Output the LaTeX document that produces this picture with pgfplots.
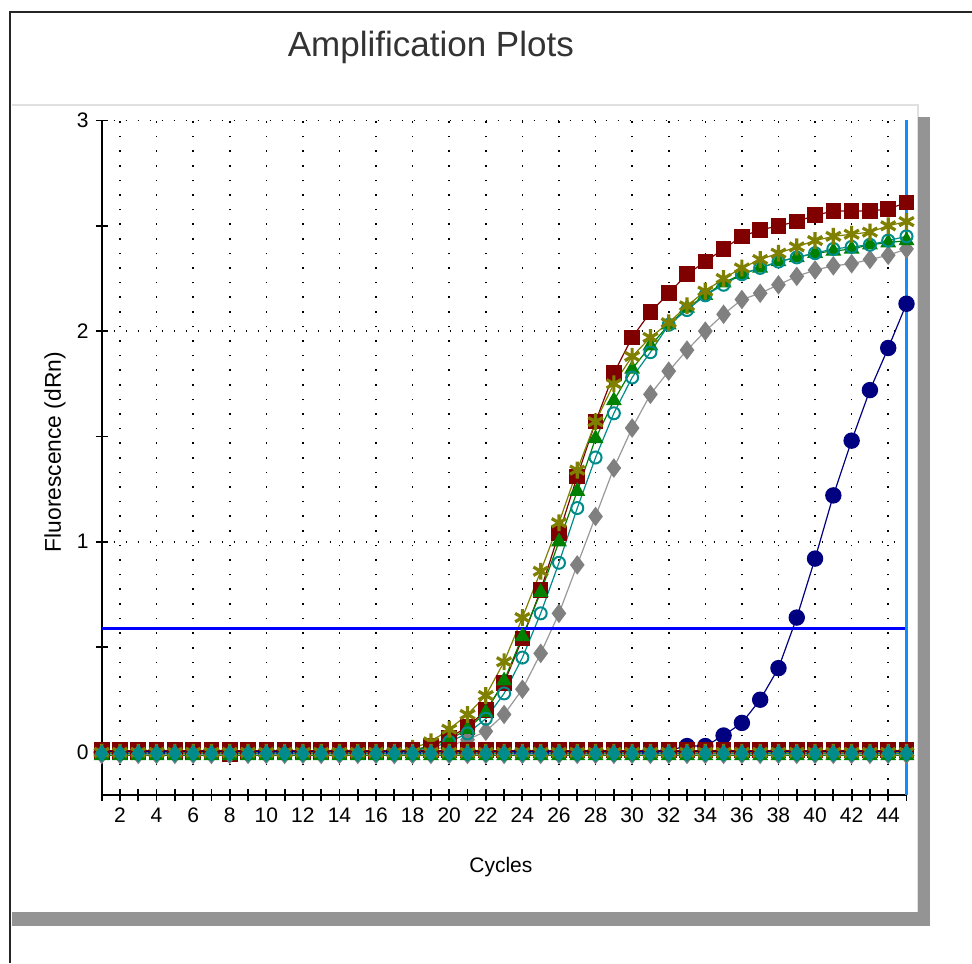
\documentclass[border=0pt]{standalone}
\usepackage{pgfplots}
\pgfplotsset{compat=1.18}
\usepackage{pgfplotstable}
\usepackage{fontspec}
\setmainfont{Liberation Sans}

\definecolor{qred}{RGB}{128,0,0}
\definecolor{qolive}{RGB}{128,128,0}
\definecolor{qgreen}{RGB}{0,128,0}
\definecolor{qteal}{RGB}{0,140,140}
\definecolor{qgray}{RGB}{128,128,128}
\definecolor{qnavy}{RGB}{0,0,128}
\definecolor{thrblue}{RGB}{0,0,255}
\definecolor{endblue}{RGB}{20,140,255}

% amplifying samples, dRn per cycle
\pgfplotstableread{
c  red   olive green teal  gray  navy
1  0.00  0.00  0.00  0.00  0.00  0.00
2  0.00  0.00  0.00  0.00  0.00  0.00
3  0.00  0.00  0.00  0.00  0.00  0.00
4  0.00  0.00  0.00  0.00  0.00  0.00
5  0.00  0.00  0.00  0.00  0.00  0.00
6  0.00  0.00  0.00  0.00  0.00  0.00
7  0.00  0.00  0.00  0.00  0.00  0.00
8  -0.01 0.00  0.00  0.00  0.00  0.00
9  0.00  0.00  0.00  0.00  0.00  0.00
10 0.00  0.00  0.00  0.00  0.00  0.00
11 0.00  0.00  0.00  0.00  0.00  0.00
12 0.00  0.00  0.00  0.00  0.00  0.00
13 0.00  0.00  0.00  0.00  0.00  0.00
14 0.00  0.00  0.00  0.00  0.00  0.00
15 0.00  0.00  0.00  0.00  0.00  0.00
16 0.00  0.00  0.00  0.00  0.00  0.00
17 0.00  0.00  0.00  0.00  -0.01 0.00
18 0.01  0.02  0.01  0.01  -0.01 0.00
19 0.03  0.05  0.03  0.02  0.01  0.00
20 0.07  0.11  0.06  0.05  0.03  0.00
21 0.12  0.18  0.11  0.09  0.06  0.00
22 0.20  0.27  0.19  0.16  0.10  0.00
23 0.33  0.43  0.34  0.28  0.18  0.00
24 0.54  0.64  0.55  0.45  0.30  0.00
25 0.77  0.86  0.76  0.66  0.47  0.00
26 1.04  1.09  1.00  0.90  0.66  0.00
27 1.31  1.34  1.24  1.16  0.89  0.00
28 1.57  1.57  1.49  1.40  1.12  0.00
29 1.80  1.75  1.67  1.61  1.35  0.00
30 1.97  1.88  1.82  1.78  1.54  0.00
31 2.09  1.97  1.93  1.90  1.70  0.00
32 2.18  2.04  2.03  2.03  1.81  0.01
33 2.27  2.12  2.11  2.10  1.91  0.03
34 2.33  2.19  2.17  2.17  2.00  0.03
35 2.39  2.25  2.23  2.22  2.08  0.08
36 2.45  2.30  2.27  2.27  2.15  0.14
37 2.48  2.34  2.30  2.30  2.18  0.25
38 2.50  2.37  2.33  2.33  2.22  0.40
39 2.52  2.40  2.35  2.35  2.26  0.64
40 2.55  2.43  2.37  2.37  2.29  0.92
41 2.57  2.45  2.38  2.39  2.31  1.22
42 2.57  2.46  2.39  2.40  2.32  1.48
43 2.57  2.47  2.41  2.41  2.34  1.72
44 2.58  2.50  2.42  2.43  2.36  1.92
45 2.61  2.52  2.43  2.45  2.39  2.13
}\amp

% no-template controls, flat baseline
\pgfplotstableread{
c  red   olive green  teal   gray   navy
1  0.01  0.00  -0.015 -0.005 -0.01  0.005
2  0.01  0.00  -0.015 -0.005 -0.01  0.005
3  0.01  0.00  -0.015 -0.005 -0.01  0.005
4  0.01  0.00  -0.015 -0.005 -0.01  0.005
5  0.01  0.00  -0.015 -0.005 -0.01  0.005
6  0.01  0.00  -0.015 -0.005 -0.01  0.005
7  0.01  0.00  -0.015 -0.005 -0.01  0.005
8  0.01  0.00  -0.015 -0.005 -0.01  0.005
9  0.01  0.00  -0.015 -0.005 -0.01  0.005
10 0.01  0.00  -0.015 -0.005 -0.01  0.005
11 0.01  0.00  -0.015 -0.005 -0.01  0.005
12 0.01  0.00  -0.015 -0.005 -0.01  0.005
13 0.01  0.00  -0.015 -0.005 -0.01  0.005
14 0.01  0.00  -0.015 -0.005 -0.01  0.005
15 0.01  0.00  -0.015 -0.005 -0.01  0.005
16 0.01  0.00  -0.015 -0.005 -0.01  0.005
17 0.01  0.00  -0.015 -0.005 -0.01  0.005
18 0.01  0.00  -0.015 -0.005 -0.01  0.005
19 0.01  0.00  -0.015 -0.005 -0.01  0.005
20 0.01  0.00  -0.015 -0.005 -0.01  0.005
21 0.01  0.00  -0.015 -0.005 -0.01  0.005
22 0.01  0.00  -0.015 -0.005 -0.01  0.005
23 0.01  0.00  -0.015 -0.005 -0.01  0.005
24 0.01  0.00  -0.015 -0.005 -0.01  0.005
25 0.01  0.00  -0.015 -0.005 -0.01  0.005
26 0.01  0.00  -0.015 -0.005 -0.01  0.005
27 0.01  0.00  -0.015 -0.005 -0.01  0.005
28 0.01  0.00  -0.015 -0.005 -0.01  0.005
29 0.01  0.00  -0.015 -0.005 -0.01  0.005
30 0.01  0.00  -0.015 -0.005 -0.01  0.005
31 0.01  0.00  -0.015 -0.005 -0.01  0.005
32 0.01  0.00  -0.015 -0.005 -0.01  0.005
33 0.01  0.00  -0.015 -0.005 -0.01  0.005
34 0.01  0.00  -0.015 -0.005 -0.01  0.005
35 0.01  0.00  -0.015 -0.005 -0.01  0.005
36 0.01  0.00  -0.015 -0.005 -0.01  0.005
37 0.01  0.00  -0.015 -0.005 -0.01  0.005
38 0.01  0.00  -0.015 -0.005 -0.01  0.005
39 0.01  0.00  -0.015 -0.005 -0.01  0.005
40 0.01  0.00  -0.015 -0.005 -0.01  0.005
41 0.01  0.00  -0.015 -0.005 -0.01  0.005
42 0.01  0.00  -0.015 -0.005 -0.01  0.005
43 0.01  0.00  -0.015 -0.005 -0.01  0.005
44 0.01  0.00  -0.015 -0.005 -0.01  0.005
45 0.01  0.00  -0.015 -0.005 -0.01  0.005
}\ntc

\pgfplotsset{
  sred/.style={color=qred, line width=0.6pt, mark=square*, mark size=3.6pt},
  solive/.style={color=qolive, line width=0.6pt, mark=asterisk, mark size=4.2pt, mark options={line width=1.6pt}},
  sgreen/.style={color=qgreen, line width=0.6pt, mark=triangle*, mark size=4pt},
  steal/.style={color=qteal, line width=0.6pt, mark=o, mark size=3pt, mark options={fill=white, line width=1pt}},
  sgray/.style={color=qgray!80, line width=0.6pt, mark=diamond*, mark size=4.4pt, mark options={color=qgray}},
  snavy/.style={color=qnavy, line width=0.6pt, mark=*, mark size=3.8pt},
}

\begin{document}
\begin{tikzpicture}[x=1pt,y=1pt]
\useasboundingbox (0,0) rectangle (486,481.5);
% window frame and drop shadow
\fill[white] (0,0) rectangle (486,481.5);
\draw[black!85, line width=1pt] (5,0) -- (5,475.5) -- (486,475.5);
\draw[black!12, line width=0.6pt] (6,429) -- (459,429) -- (459,25.5);
\fill[black!42] (459,18.5) rectangle (465,423);
\fill[black!42] (6,18.5) rectangle (465,25.5);

\begin{axis}[
  at={(50.85pt,84.25pt)}, anchor=south west,
  scale only axis, width=402.4pt, height=337pt,
  xmin=1, xmax=45, ymin=-0.2, ymax=3,
  clip=false,
  axis x line=bottom, axis y line=left,
  axis line style={-, black, line width=1pt},
  xtick={2,4,...,44}, minor xtick={1,3,...,45},
  ytick={0,1,2,3}, minor ytick={0.5,1.5,2.5},
  tick align=center,
  major tick length=6pt, minor tick length=6pt,
  tick style={black, line width=0.9pt},
  xmajorgrids, ymajorgrids,
  x grid style={black, line width=0.8pt, dash pattern=on 0.8pt off 6.5pt},
  y grid style={black, line width=0.8pt, dash pattern=on 0.8pt off 5.2pt},
  /pgf/number format/assume math mode=true,
  tick label style={font=\fontsize{10.5}{12}\selectfont},
  title={Amplification Plots},
  title style={at={(axis description cs:0.409,1.09)}, anchor=center,
    font=\fontsize{17.5}{20}\selectfont, text=black!80},
  xlabel={Cycles},
  xlabel style={at={(axis description cs:0.496,-0.108)}, anchor=center,
    font=\fontsize{10.5}{12}\selectfont},
  ylabel={Fluorescence (dRn)},
  ylabel style={at={(axis description cs:-0.058,0.508)}, anchor=center,
    font=\fontsize{11.4}{13}\selectfont},
]
% samples
\addplot [snavy]  table [x=c, y=navy]  {\amp};
\addplot [sred]   table [x=c, y=red]   {\amp};
\addplot [sgray]  table [x=c, y=gray]  {\amp};
\addplot [sgreen] table [x=c, y=green] {\amp};
\addplot [steal]  table [x=c, y=teal]  {\amp};
\addplot [solive] table [x=c, y=olive] {\amp};
% no-template controls
\addplot [snavy, mark size=3pt] table [x=c, y=navy] {\ntc};
\addplot [sred]   table [x=c, y=red]   {\ntc};
\addplot [sgray]  table [x=c, y=gray]  {\ntc};
\addplot [sgreen] table [x=c, y=green] {\ntc};
\addplot [solive] table [x=c, y=olive] {\ntc};
\addplot [color=qteal, line width=0.6pt, mark=diamond*, mark size=4pt] table [x=c, y=teal] {\ntc};
% threshold and end-cycle marker
\addplot [thrblue, line width=1.6pt] coordinates {(1,0.59) (45,0.59)};
\addplot [endblue, line width=1.6pt] coordinates {(45,-0.2) (45,3)};
\end{axis}
\end{tikzpicture}
\end{document}
